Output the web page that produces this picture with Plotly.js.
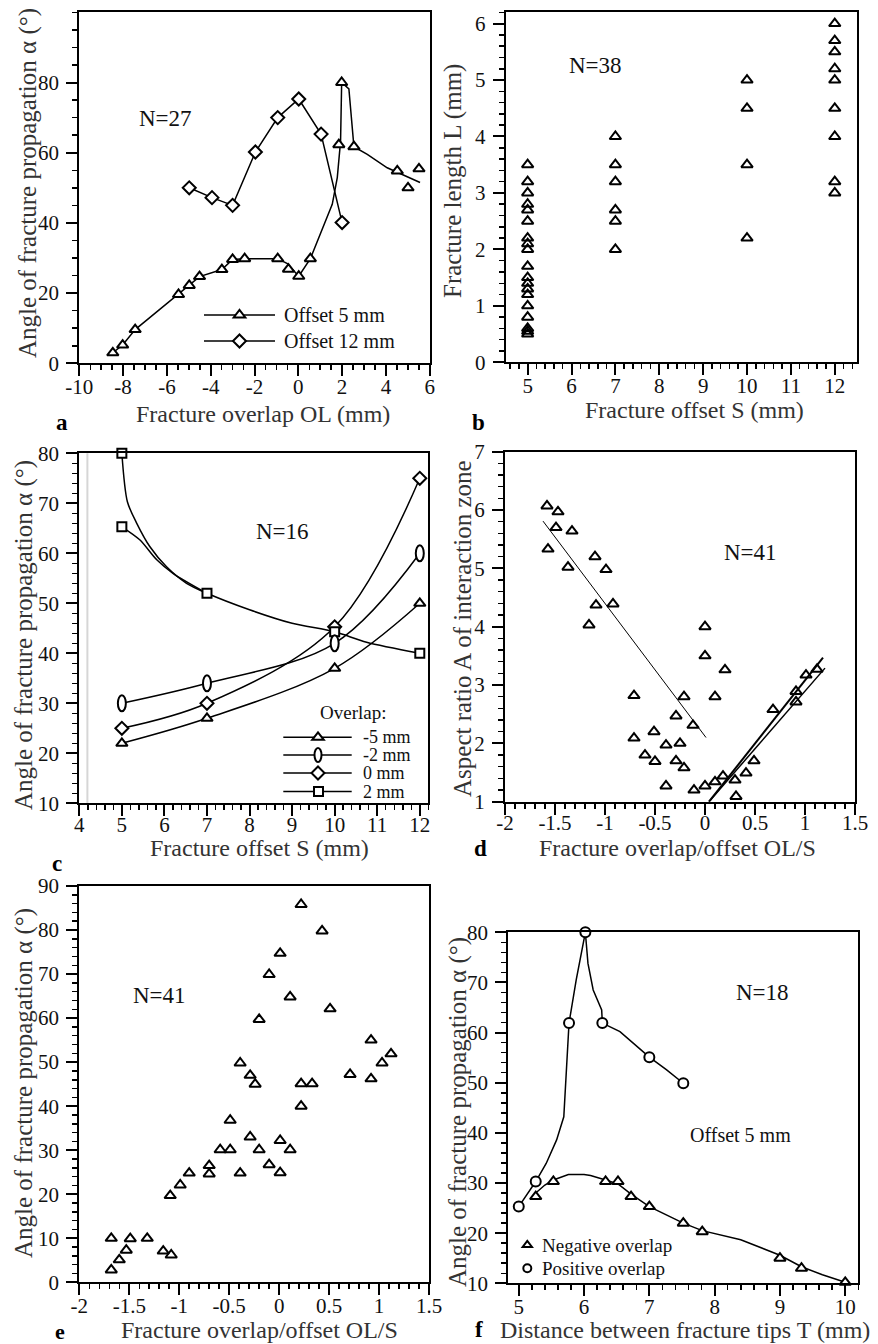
<!DOCTYPE html>
<html><head><meta charset="utf-8">
<script src="https://cdn.plot.ly/plotly-3.0.1.min.js"></script>
<style>html,body{margin:0;padding:0;background:#fff}</style>
</head><body><div id="chart" style="width:878px;height:1344px"></div>
<script>
// ---------- Panel a: angle vs overlap ----------
const a_off5_OL = [-8.47,-8.02,-7.45,-5.47,-4.98,-4.51,-3.49,-3.0,-2.45,-0.94,-0.45,0.02,0.55,1.85,1.98,2.54,4.52,5.01,5.51];
const a_off5_alpha = [3,5.2,9.6,19.6,22.2,24.7,26.7,29.6,29.8,29.8,26.8,24.8,29.8,62.3,80,61.7,54.8,50,55.4];
const a_off5_curveOL = [-8.47,-8.02,-7.45,-5.47,-4.98,-4.51,-3.49,-3.0,-2.45,-0.94,-0.5,0.02,0.55,1.01,1.55,1.78,1.93,1.98,2.31,2.54,3.15,4.06,5.56];
const a_off5_curveAlpha = [3,5.2,9.6,19.6,22.2,24.7,26.7,29.6,29.8,29.8,28.4,24.8,29.8,36.8,45.3,52.9,63.3,80,78.2,61.7,59.5,55.7,51.5];
const a_off12_OL = [-4.98,-3.94,-3.0,-1.96,-0.94,0.02,1.04,2.0];
const a_off12_alpha = [50,47.2,45,60.2,70,75.3,65.3,40.1];
const a_xticks = [-10,-8,-6,-4,-2,0,2,4,6];
const a_xticktext = ['-10','-8','-6','-4','-2','0','2','4','6'];
const a_yticks = [0,20,40,60,80];

// ---------- Panel b: fracture length vs offset ----------
const b_offset = [5,5,5,5,5,5,5,5,5,5,5,5,5,5,5,5,5,5,5, 7,7,7,7,7,7, 10,10,10,10, 12,12,12,12,12,12,12,12,12];
const b_length = [3.5,3.2,3.0,2.8,2.7,2.5,2.2,2.1,2.0,1.7,1.5,1.4,1.3,1.2,1.0,0.8,0.6,0.55,0.5,
                  4.0,3.5,3.2,2.7,2.5,2.0, 5.0,4.5,3.5,2.2, 6.0,5.7,5.5,5.2,5.0,4.5,4.0,3.2,3.0];

// ---------- Panel c: angle vs offset for overlaps ----------
const c_offset = [5,7,10,12];
const c_overlapM5 = [22,27,37,50];
const c_overlapM2 = [30,34,42,60];
const c_overlap0 = [25,30,45.3,75];
const c_overlap2_S = [5,5,7,10,12];
const c_overlap2 = [80,65.3,52,44.3,40];
const c_overlap2_curveA_S = [5,5.13,5.35,5.66,6.05,6.52,7,8,9,10,10.75,12];
const c_overlap2_curveA = [80,70.3,66,61.3,57.3,54,52,48.7,46,44.3,42.2,40];
const c_overlap2_curveB_S = [5,5.42,5.82,6.2,7];
const c_overlap2_curveB = [65.3,62.7,58.7,56,52];
const c_legendLabels = ['-5 mm','-2 mm','0 mm','2 mm'];

// ---------- Panel d: aspect ratio vs OL/S ----------
const d_ratio = [-1.58,-1.47,-1.49,-1.33,-1.57,-1.37,-1.10,-0.99,-1.09,-0.92,-1.16,0.0,0.0,0.2,0.1,-0.71,-0.21,-0.29,-0.12,-0.71,-0.51,-0.39,-0.25,-0.6,-0.5,-0.29,-0.21,-0.39,-0.11,0.0,0.1,0.18,0.3,0.31,0.41,0.49,0.68,0.91,0.91,1.01,1.12];
const d_aspect = [6.07,5.97,5.70,5.64,5.33,5.02,5.20,4.98,4.37,4.39,4.03,4.0,3.5,3.26,2.8,2.82,2.8,2.47,2.31,2.09,2.2,1.97,2.0,1.8,1.69,1.7,1.58,1.27,1.2,1.27,1.34,1.44,1.37,1.09,1.49,1.7,2.58,2.89,2.71,3.17,3.27];
const d_fit1_x = [-1.62,0.01], d_fit1_y = [5.81,2.10];
const d_fit2_x = [0.04,1.18], d_fit2_y = [1.0,3.47];
const d_fit3_x = [0.04,1.2], d_fit3_y = [1.0,3.29];
const ratio_ticks = [-2,-1.5,-1,-0.5,0,0.5,1,1.5];
const ratio_ticktext = ['-2','-1.5','-1','-0.5','0','0.5','1','1.5'];

// ---------- Panel e: angle vs OL/S ----------
const e_ratio = [-1.68,-1.68,-1.60,-1.53,-1.49,-1.32,-1.16,-1.08,-1.09,-0.99,-0.90,-0.70,-0.70,-0.59,-0.49,-0.49,-0.39,-0.39,-0.29,-0.24,-0.29,-0.2,-0.2,-0.1,-0.1,0.01,0.01,0.01,0.11,0.11,0.22,0.22,0.22,0.33,0.43,0.51,0.71,0.92,0.92,1.03,1.12];
const e_alpha = [10.0,2.8,5.1,7.3,9.9,10.0,7.1,6.2,19.7,22.1,24.8,26.5,24.6,30.1,30.1,36.8,24.8,49.8,47.0,45.0,33.0,30.1,59.7,26.7,69.9,74.7,32.2,24.9,64.8,30.1,85.8,45.1,40.0,45.1,79.8,62.1,47.2,55.0,46.2,49.8,51.9];

// ---------- Panel f: angle vs tip distance ----------
const f_neg_T = [5.26,5.53,6.33,6.52,6.72,7.0,7.52,7.81,9.0,9.33,10.0];
const f_neg_alpha = [27.3,30.3,30.3,30.3,27.3,25.3,22.0,20.3,15.0,13.0,10.2];
const f_neg_curveT = [5.26,5.4,5.53,5.76,6.0,6.1,6.33,6.52,6.72,7.0,7.52,7.81,8.4,9.0,9.33,9.65,10.0];
const f_neg_curveAlpha = [28.0,29.6,30.6,31.7,31.7,31.5,30.6,29.8,27.8,25.3,22.0,20.5,18.7,15.6,13.3,11.7,10.2];
const f_pos_T = [5.0,5.26,5.77,6.02,6.28,7.0,7.52];
const f_pos_alpha = [25.3,30.3,61.9,80,61.9,55.1,49.9];
const f_pos_curveT = [5.0,5.26,5.42,5.58,5.69,5.71,5.73,5.77,5.88,6.02,6.06,6.14,6.27,6.28,6.55,7.0,7.26,7.52];
const f_pos_curveAlpha = [25.3,30.3,33.9,38.6,43.2,47.9,54.5,61.9,70.5,80,73.8,68.5,64.5,61.9,60.2,55.1,52.6,49.9];

// ---------- layout helpers ----------
const W = 878, H = 1344;
const FONT = 'Liberation Serif';
const px = v => v / W;
const py = v => 1 - v / H;
const xd = (l, r) => [l / W, r / W];
const yd = (top, bot) => [1 - bot / H, 1 - top / H];

function mkAxis(o, standoff) {
  const ax = {
    domain: o.domain, range: o.range, anchor: o.anchor,
    showline: true, linecolor: '#000', linewidth: 2, mirror: true,
    ticks: 'outside', ticklen: 11, tickwidth: 2, tickcolor: '#000',
    showgrid: false, zeroline: false, fixedrange: true,
    tickfont: {family: FONT, size: 21, color: '#111'},
    ticklabelstandoff: standoff,
    minor: {ticks: 'outside', ticklen: 5, tickwidth: 1.5, tickcolor: '#000',
            tickmode: 'linear', tick0: o.mtick0, dtick: o.mdtick, showgrid: false}
  };
  if (o.tickvals) { ax.tickmode = 'array'; ax.tickvals = o.tickvals; ax.ticktext = o.ticktext || o.tickvals.map(String); }
  else { ax.tickmode = 'linear'; ax.tick0 = o.tick0; ax.dtick = o.dtick; }
  return ax;
}

const BLK = '#000';
const triFill = {symbol: 'triangle-up', size: 10, color: '#fff', line: {color: BLK, width: 2}};
const triOpen = {symbol: 'triangle-up-open', size: 10, color: BLK, line: {color: BLK, width: 2}};

const traces = [
  // a
  {x: a_off5_curveOL, y: a_off5_curveAlpha, xaxis: 'x', yaxis: 'y', mode: 'lines', line: {color: BLK, width: 1.5}},
  {x: a_off5_OL, y: a_off5_alpha, xaxis: 'x', yaxis: 'y', mode: 'markers', marker: triFill, cliponaxis: false},
  {x: a_off12_OL, y: a_off12_alpha, xaxis: 'x', yaxis: 'y', mode: 'lines+markers', line: {color: BLK, width: 1.5}, cliponaxis: false,
   marker: {symbol: 'diamond', size: 10, color: '#fff', line: {color: BLK, width: 2}}},
  // b
  {x: b_offset, y: b_length, xaxis: 'x2', yaxis: 'y2', mode: 'markers', marker: triOpen, cliponaxis: false},
  // c
  {x: c_offset, y: c_overlapM5, xaxis: 'x3', yaxis: 'y3', mode: 'lines+markers', cliponaxis: false, line: {color: BLK, width: 1.5, shape: 'spline', smoothing: 1}, marker: {symbol: 'triangle-up', size: 10, color: '#fff', line: {color: BLK, width: 2}}},
  {x: c_offset, y: c_overlapM2, xaxis: 'x3', yaxis: 'y3', mode: 'lines', line: {color: BLK, width: 1.5, shape: 'spline', smoothing: 1}},
  {x: c_offset, y: c_overlap0, xaxis: 'x3', yaxis: 'y3', mode: 'lines+markers', cliponaxis: false, line: {color: BLK, width: 1.5, shape: 'spline', smoothing: 1}, marker: {symbol: 'diamond', size: 10, color: '#fff', line: {color: BLK, width: 2}}},
  {x: c_overlap2_curveA_S, y: c_overlap2_curveA, xaxis: 'x3', yaxis: 'y3', mode: 'lines', line: {color: BLK, width: 1.5, shape: 'spline', smoothing: 0.8}},
  {x: c_overlap2_curveB_S, y: c_overlap2_curveB, xaxis: 'x3', yaxis: 'y3', mode: 'lines', line: {color: BLK, width: 1.5, shape: 'spline', smoothing: 0.8}},
  {x: c_overlap2_S, y: c_overlap2, xaxis: 'x3', yaxis: 'y3', mode: 'markers', cliponaxis: false, marker: {symbol: 'square', size: 9, color: '#fff', line: {color: BLK, width: 2}}},
  // d
  {x: d_fit1_x, y: d_fit1_y, xaxis: 'x4', yaxis: 'y4', mode: 'lines', line: {color: BLK, width: 1}},
  {x: d_fit2_x, y: d_fit2_y, xaxis: 'x4', yaxis: 'y4', mode: 'lines', line: {color: BLK, width: 2}},
  {x: d_fit3_x, y: d_fit3_y, xaxis: 'x4', yaxis: 'y4', mode: 'lines', line: {color: BLK, width: 1.5}},
  {x: d_ratio, y: d_aspect, xaxis: 'x4', yaxis: 'y4', mode: 'markers', marker: triOpen, cliponaxis: false},
  // e
  {x: e_ratio, y: e_alpha, xaxis: 'x5', yaxis: 'y5', mode: 'markers', marker: triOpen, cliponaxis: false},
  // f
  {x: f_pos_curveT, y: f_pos_curveAlpha, xaxis: 'x6', yaxis: 'y6', mode: 'lines', line: {color: BLK, width: 1.5}},
  {x: f_neg_curveT, y: f_neg_curveAlpha, xaxis: 'x6', yaxis: 'y6', mode: 'lines', line: {color: BLK, width: 1.5}},
  {x: f_neg_T, y: f_neg_alpha, xaxis: 'x6', yaxis: 'y6', mode: 'markers', marker: triFill, cliponaxis: false},
  {x: f_pos_T, y: f_pos_alpha, xaxis: 'x6', yaxis: 'y6', mode: 'markers', cliponaxis: false, marker: {symbol: 'circle', size: 10, color: '#fff', line: {color: BLK, width: 2}}}
];

// ---------- shapes (legend samples, ellipse markers) ----------
function pathShape(kind, xref, yref, xa, ya, s) {
  s = s || 1;
  let path;
  if (kind === 'tri') path = `M${-5.8*s},${-2.5*s} L${5.8*s},${-2.5*s} L0,${5*s} Z`;
  else if (kind === 'dia') path = `M0,${6.5*s} L${6.5*s},0 L0,${-6.5*s} L${-6.5*s},0 Z`;
  else path = `M${-4.5*s},${-4.5*s} L${4.5*s},${-4.5*s} L${4.5*s},${4.5*s} L${-4.5*s},${4.5*s} Z`;
  return {type: 'path', xref, yref, xsizemode: 'pixel', ysizemode: 'pixel', xanchor: xa, yanchor: ya,
          path, line: {color: BLK, width: 2}, fillcolor: '#fff', layer: 'above'};
}
function ellShape(xref, yref, xa, ya, rx, ry) {
  return {type: 'circle', xref, yref, xsizemode: 'pixel', ysizemode: 'pixel', xanchor: xa, yanchor: ya,
          x0: -rx, x1: rx, y0: -ry, y1: ry, line: {color: BLK, width: 2}, fillcolor: '#fff', layer: 'above'};
}
function hline(x0, x1, y) {
  return {type: 'line', xref: 'paper', yref: 'paper', x0: px(x0), x1: px(x1), y0: py(y), y1: py(y), line: {color: BLK, width: 1.5}};
}

const shapes = [];
// faint vertical artifact in panel c
shapes.push({type: 'line', xref: 'x3', yref: 'y3 domain', x0: 4.19, x1: 4.19, y0: 0, y1: 1, line: {color: '#d6d6d6', width: 2}, layer: 'below'});
// ellipse markers for -2 mm overlap
c_offset.forEach((s, i) => shapes.push(ellShape('x3', 'y3', s, c_overlapM2[i], 4, 8)));
// legend a
shapes.push(hline(204, 275, 315), hline(204, 275, 341));
shapes.push(pathShape('tri', 'paper', 'paper', px(239.5), py(315)));
shapes.push(pathShape('dia', 'paper', 'paper', px(239.5), py(341)));
// legend c
const cRows = [737.3, 755, 773, 791.5];
cRows.forEach(y => shapes.push(hline(283.3, 351.7, y)));
shapes.push(pathShape('tri', 'paper', 'paper', px(318), py(cRows[0])));
shapes.push(ellShape('paper', 'paper', px(318), py(cRows[1]), 3.5, 7));
shapes.push(pathShape('dia', 'paper', 'paper', px(318), py(cRows[2])));
shapes.push(pathShape('sq', 'paper', 'paper', px(318.5), py(cRows[3])));
// legend f
shapes.push(pathShape('tri', 'paper', 'paper', px(527.3), py(1245), 0.8));
shapes.push(ellShape('paper', 'paper', px(527.3), py(1268.3), 4, 4));

// ---------- annotations ----------
function txt(t, x, y, o) {
  o = o || {};
  return {text: t, xref: 'paper', yref: 'paper', x: px(x), y: py(y), showarrow: false,
          xanchor: o.xanchor || 'center', yanchor: 'middle', textangle: o.angle || 0,
          font: {family: FONT, size: o.size || 24, color: o.color || '#333', weight: o.weight || 'normal'}};
}
const yTitleAngle = 'Angle of fracture propagation α (°)';
const annotations = [
  // axis titles
  txt('Fracture overlap OL (mm)', 263, 414),
  txt(yTitleAngle, 28, 183, {angle: -90, size: 25}),
  txt('Fracture offset S (mm)', 694, 410),
  txt('Fracture length L (mm)', 453, 181, {angle: -90, size: 25}),
  txt('Fracture offset S (mm)', 259, 848),
  txt(yTitleAngle, 24, 635, {angle: -90, size: 25}),
  txt('Fracture overlap/offset OL/S', 677, 848),
  txt('Aspect ratio A of interaction zone', 463, 629, {angle: -90, size: 25}),
  txt('Fracture overlap/offset OL/S', 259, 1330),
  txt(yTitleAngle, 24, 1083, {angle: -90, size: 25}),
  txt('Distance between fracture tips T (mm)', 685, 1330),
  txt(yTitleAngle, 458, 1112, {angle: -90, size: 25}),
  // panel letters
  txt('a', 62, 422, {size: 23, weight: 'bold', color: '#000'}),
  txt('b', 479, 422, {size: 23, weight: 'bold', color: '#000'}),
  txt('c', 57, 863, {size: 23, weight: 'bold', color: '#000'}),
  txt('d', 480, 848, {size: 23, weight: 'bold', color: '#000'}),
  txt('e', 60, 1331, {size: 22, weight: 'bold', color: '#000'}),
  txt('f', 479, 1329, {size: 23, weight: 'bold', color: '#000'}),
  // N labels
  txt('N=27', 165, 118, {size: 23, color: '#111'}),
  txt('N=38', 595, 65, {size: 23, color: '#111'}),
  txt('N=16', 282, 532, {size: 23, color: '#111'}),
  txt('N=41', 750, 552, {size: 23, color: '#111'}),
  txt('N=41', 159, 995, {size: 23, color: '#111'}),
  txt('N=18', 762, 992, {size: 23, color: '#111'}),
  // legend texts
  txt('Offset 5 mm', 282, 315, {size: 20, xanchor: 'left', color: '#111'}),
  txt('Offset 12 mm', 282, 341, {size: 20, xanchor: 'left', color: '#111'}),
  txt('Overlap:', 318, 713, {size: 19, xanchor: 'left', color: '#111'}),
  txt('Offset 5 mm', 740, 1135, {size: 20, color: '#111'}),
  txt('Negative overlap', 540, 1245, {size: 19, xanchor: 'left', color: '#111'}),
  txt('Positive overlap', 540, 1268, {size: 19, xanchor: 'left', color: '#111'})
];
c_legendLabels.forEach((l, i) => annotations.push(txt(l, 360.7, cRows[i], {size: 18, xanchor: 'left', color: '#111'})));

const layout = {
  width: W, height: H, margin: {l: 0, r: 0, t: 0, b: 0},
  paper_bgcolor: '#fff', plot_bgcolor: '#fff', showlegend: false,
  font: {family: FONT, color: '#111', size: 21},
  xaxis: mkAxis({domain: xd(79.3, 429.7), range: [-10, 6], anchor: 'y', tickvals: a_xticks, ticktext: a_xticktext, mtick0: -10, mdtick: 0.5}, -8),
  yaxis: mkAxis({domain: yd(12.3, 363.3), range: [0, 100], anchor: 'x', tickvals: a_yticks, mtick0: 0, mdtick: 5}, 3),
  xaxis2: mkAxis({domain: xd(505.7, 856.7), range: [4.5, 12.5], anchor: 'y2', tick0: 5, dtick: 1, mtick0: 5, mdtick: 0.2}, -8),
  yaxis2: mkAxis({domain: yd(12.3, 362.3), range: [0, 6.2], anchor: 'x2', tick0: 0, dtick: 1, mtick0: 0, mdtick: 0.2}, 3),
  xaxis3: mkAxis({domain: xd(79.3, 428.3), range: [4, 12.2], anchor: 'y3', tick0: 4, dtick: 1, mtick0: 4, mdtick: 0.2}, -10),
  yaxis3: mkAxis({domain: yd(453.3, 803.3), range: [10, 80], anchor: 'x3', tick0: 10, dtick: 10, mtick0: 10, mdtick: 2}, 3),
  xaxis4: mkAxis({domain: xd(505, 855), range: [-2, 1.5], anchor: 'y4', tickvals: ratio_ticks, ticktext: ratio_ticktext, mtick0: -2, mdtick: 0.1}, -10),
  yaxis4: mkAxis({domain: yd(451.7, 801.7), range: [1, 7], anchor: 'x4', tick0: 1, dtick: 1, mtick0: 1, mdtick: 0.2}, 3),
  xaxis5: mkAxis({domain: xd(79.3, 429), range: [-2, 1.5], anchor: 'y5', tickvals: ratio_ticks, ticktext: ratio_ticktext, mtick0: -2, mdtick: 0.1}, -8),
  yaxis5: mkAxis({domain: yd(886, 1282.3), range: [0, 90], anchor: 'x5', tick0: 0, dtick: 10, mtick0: 0, mdtick: 2}, 3),
  xaxis6: mkAxis({domain: xd(508.3, 858.3), range: [4.84, 10.2], anchor: 'y6', tick0: 5, dtick: 1, mtick0: 5, mdtick: 0.2}, -8),
  yaxis6: mkAxis({domain: yd(932.3, 1283.3), range: [10, 80], anchor: 'x6', tick0: 10, dtick: 10, mtick0: 10, mdtick: 2}, 3),
  shapes, annotations
};

Plotly.newPlot('chart', traces, layout, {staticPlot: true, displayModeBar: false});
</script></body></html>
